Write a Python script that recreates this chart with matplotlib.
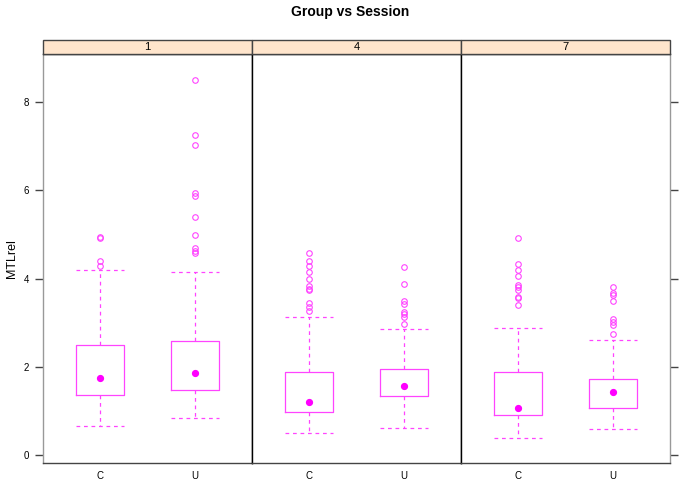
import matplotlib
matplotlib.use("Agg")
import matplotlib.pyplot as plt
from matplotlib.patches import Rectangle

plt.rcParams["font.family"] = ["Liberation Sans", "DejaVu Sans"]

# data (MTLrel by Group within Session)
sessions = ["1", "4", "7"]
groups = ["C", "U"]

box_low = [[1.36, 1.47], [0.97, 1.345], [0.91, 1.07]]
box_high = [[2.50, 2.58], [1.875, 1.96], [1.89, 1.73]]
medians = [[1.74, 1.87], [1.21, 1.57], [1.07, 1.42]]
whisk_low = [[0.66, 0.85], [0.49, 0.62], [0.38, 0.59]]
whisk_high = [[4.20, 4.15], [3.14, 2.85], [2.89, 2.60]]
outliers = [
    [[4.94, 4.92, 4.40, 4.29],
     [8.50, 7.26, 7.02, 5.93, 5.88, 5.39, 4.99, 4.69, 4.62, 4.57]],
    [[4.57, 4.40, 4.29, 4.16, 4.00, 3.83, 3.76, 3.73, 3.45, 3.36, 3.27],
     [4.26, 3.87, 3.50, 3.42, 3.25, 3.19, 3.14, 2.97]],
    [[4.91, 4.33, 4.20, 4.06, 3.85, 3.80, 3.74, 3.59, 3.55, 3.40],
     [3.82, 3.68, 3.63, 3.49, 3.08, 3.02, 2.95, 2.74]],
]
yticks = [0, 2, 4, 6, 8]

col = "#ff44ff"
fig = plt.figure(figsize=(7, 5), dpi=100)

left, right = 43 / 700, 670 / 700
bottom, top = 1 - 463 / 500, 1 - 54 / 500
strip_h = 14 / 500
pw = (right - left) / 3

for i, sess in enumerate(sessions):
    ax = fig.add_axes([left + i * pw, bottom, pw, top - bottom])
    stats = []
    for j, g in enumerate(groups):
        stats.append(dict(label=g, med=medians[i][j],
                          q1=box_low[i][j], q3=box_high[i][j],
                          whislo=whisk_low[i][j], whishi=whisk_high[i][j],
                          fliers=outliers[i][j]))
    ax.bxp(stats, positions=[1, 2], widths=0.5, capwidths=0.5,
           boxprops=dict(color=col, linewidth=0.9),
           whiskerprops=dict(color=col, linewidth=0.9, linestyle=(0, (3, 3))),
           capprops=dict(color=col, linewidth=0.9, linestyle=(0, (3, 3))),
           medianprops=dict(linewidth=0),
           flierprops=dict(marker="o", markersize=4, markerfacecolor="none",
                           markeredgecolor=col, markeredgewidth=0.8))
    ax.plot([1, 2], medians[i], "o", color="#ff00ff", markersize=4.2, zorder=5)

    ax.set_xlim(0.4, 2.6)
    ax.set_ylim(-0.18, 9.09)
    ax.set_xticks([1, 2])
    ax.set_xticklabels(groups, fontsize=7)
    ax.tick_params(axis="x", length=0, pad=6)
    ax.set_yticks(yticks)
    if i == 0:
        ax.set_yticklabels([str(t) for t in yticks], fontsize=7)
        ax.tick_params(axis="y", direction="out", length=6, width=1,
                       color="#444444", pad=4)
        ax.set_ylabel("MTLrel", fontsize=9, labelpad=4)
    elif i == 2:
        ax.yaxis.tick_right()
        ax.set_yticklabels([])
        ax.tick_params(axis="y", direction="out", length=6, width=1,
                       color="#444444")
    else:
        ax.tick_params(axis="y", length=0, labelleft=False)
    for s in ax.spines.values():
        s.set_color("black")
        s.set_linewidth(1)
    ax.spines["left"].set_color("#999999" if i == 0 else "black")
    ax.spines["right"].set_color("#999999" if i == 2 else "black")
    ax.spines["bottom"].set_color("#444444")

    # strip
    sx = left + i * pw
    fig.patches.append(Rectangle((sx, top), pw, strip_h, transform=fig.transFigure,
                                 facecolor="#ffe5cc", edgecolor="#444444",
                                 linewidth=1, zorder=3))
    fig.text(sx + pw / 2, top + strip_h / 2, sess, ha="center", va="center",
             fontsize=8, zorder=4)

fig.text(0.5, 1 - 12 / 500, "Group vs Session", ha="center", va="center",
         fontsize=10, fontweight="bold")

fig.savefig("out.png", dpi=100)
